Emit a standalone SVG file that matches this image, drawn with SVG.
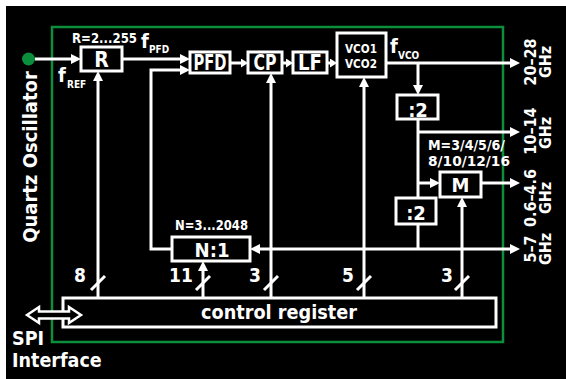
<svg xmlns="http://www.w3.org/2000/svg" width="566" height="379" viewBox="0 0 566 379">
<style>
.t{font-family:"DejaVu Sans Condensed","DejaVu Sans","Liberation Sans Narrow",sans-serif;font-weight:bold;fill:#fff}
.box{fill:#000;stroke:#fff;stroke-width:3}
.ln{fill:none;stroke:#fff;stroke-width:3}
.m{text-anchor:middle}
</style>
<defs>
<marker id="ah" markerUnits="userSpaceOnUse" viewBox="0 0 10 10" markerWidth="10" markerHeight="10" refX="4" refY="5" orient="auto-start-reverse"><path d="M0,0L10,5L0,10z" fill="#fff"/></marker>
<marker id="as" markerUnits="userSpaceOnUse" viewBox="0 0 7 9" markerWidth="7" markerHeight="9" refX="3" refY="4.5" orient="auto"><path d="M0,0L7,4.5L0,9z" fill="#fff"/></marker>
</defs>
<rect x="0" y="0" width="566" height="379" fill="#fff"/>
<rect x="6" y="6" width="560" height="373" fill="#000"/>
<rect x="52" y="27" width="451" height="315" fill="none" stroke="#0b8f3c" stroke-width="2.5"/>

<g id="quartz">
<circle cx="28.5" cy="59" r="6.5" fill="#0b8f3c"/>
<text class="t m" transform="translate(36.5,157) rotate(-90)" font-size="20">Quartz Oscillator</text>
</g>

<g id="connectors">
<path class="ln" marker-end="url(#ah)" d="M35,59H75"/>
<path class="ln" marker-end="url(#ah)" d="M122,59H184"/>
<path class="ln" marker-end="url(#ah)" d="M172,249H151V70H184"/>
<path class="ln" marker-end="url(#as)" d="M230,63H244"/>
<path class="ln" marker-end="url(#as)" d="M282,63H289"/>
<path class="ln" marker-end="url(#as)" d="M327,63H333"/>
<path class="ln" marker-end="url(#ah)" d="M386,63H514"/>
<path class="ln" marker-end="url(#ah)" d="M418,63V89"/>
<path class="ln" d="M418,119V198"/>
<path class="ln" marker-end="url(#ah)" d="M418,132H514"/>
<path class="ln" marker-end="url(#ah)" d="M418,183H434"/>
<path class="ln" marker-end="url(#ah)" d="M481,183H514"/>
<path class="ln" d="M418,224V249"/>
<path class="ln" marker-start="url(#ah)" marker-end="url(#ah)" d="M256,249H514"/>
<path class="ln" marker-end="url(#ah)" d="M98,298V77"/>
<path class="ln" marker-end="url(#ah)" d="M203,298V267"/>
<path class="ln" marker-end="url(#ah)" d="M271,298V79"/>
<path class="ln" marker-end="url(#ah)" d="M364,298V83"/>
<path class="ln" marker-end="url(#ah)" d="M462,298V203"/>
<path class="ln" d="M91,290L105,276M196,290L210,276M264,290L278,276M357,290L371,276M455,290L469,276"/>
</g>

<g id="bus-labels">
<text class="t m" x="80" y="282" font-size="19">8</text>
<text class="t m" x="181" y="282" font-size="19">11</text>
<text class="t m" x="255" y="282" font-size="19">3</text>
<text class="t m" x="348" y="282" font-size="19">5</text>
<text class="t m" x="447" y="282" font-size="19">3</text>
</g>

<g id="R">
<rect class="box" x="81" y="47" width="41" height="24"/>
<text class="t m" x="101.5" y="66.5" font-size="21">R</text>
<text class="t" x="72" y="43" font-size="14" textLength="65" lengthAdjust="spacingAndGlyphs">R=2...255</text>
</g>
<g id="fref"><text class="t" x="58" y="82" font-size="20">f<tspan x="67" y="88" font-size="10">REF</tspan></text></g>
<g id="fpfd"><text class="t" x="141" y="48" font-size="20">f<tspan x="149" y="53" font-size="10">PFD</tspan></text></g>

<g id="PFD">
<rect class="box" x="190" y="52" width="40" height="21"/>
<text class="t m" x="210" y="70" font-size="20.5" textLength="33" lengthAdjust="spacingAndGlyphs">PFD</text>
</g>
<g id="CP">
<rect class="box" x="248" y="52" width="34" height="21"/>
<text class="t m" x="265" y="70" font-size="20.5" textLength="23" lengthAdjust="spacingAndGlyphs">CP</text>
</g>
<g id="LF">
<rect class="box" x="293" y="52" width="34" height="21"/>
<text class="t m" x="310" y="70" font-size="20.5" textLength="24" lengthAdjust="spacingAndGlyphs">LF</text>
</g>
<g id="VCO">
<rect class="box" x="337" y="33" width="49" height="44"/>
<text class="t m" x="361" y="53" font-size="13" textLength="32" lengthAdjust="spacingAndGlyphs">VCO1</text>
<text class="t m" x="361" y="68" font-size="13" textLength="32" lengthAdjust="spacingAndGlyphs">VCO2</text>
</g>
<g id="fvco"><text class="t" x="390" y="53" font-size="20">f<tspan x="398" y="59" font-size="10">VCO</tspan></text></g>

<g id="div2a">
<rect class="box" x="397" y="95" width="41" height="24"/>
<text class="t m" x="418" y="116.5" font-size="20">:2</text>
</g>
<g id="div2b">
<rect class="box" x="396" y="198" width="40" height="26"/>
<text class="t m" x="416" y="220" font-size="20">:2</text>
</g>
<g id="M">
<rect class="box" x="440" y="172" width="41" height="25"/>
<text class="t m" x="460.5" y="191.5" font-size="20">M</text>
<text class="t" x="428" y="150" font-size="14" textLength="77" lengthAdjust="spacingAndGlyphs">M=3/4/5/6/</text>
<text class="t" x="428" y="165.5" font-size="14" textLength="82" lengthAdjust="spacingAndGlyphs">8/10/12/16</text>
</g>
<g id="N1">
<rect class="box" x="172" y="237" width="78" height="24"/>
<text class="t m" x="212" y="257" font-size="20" textLength="35" lengthAdjust="spacingAndGlyphs">N:1</text>
<text class="t" x="175" y="229.5" font-size="14" textLength="73" lengthAdjust="spacingAndGlyphs">N=3...2048</text>
</g>

<g id="outputs">
<text class="t m" transform="translate(536,62) rotate(-90)" font-size="16">20–28</text>
<text class="t m" transform="translate(550.5,62) rotate(-90)" font-size="16">GHz</text>
<text class="t m" transform="translate(536,131) rotate(-90)" font-size="16">10–14</text>
<text class="t m" transform="translate(550.5,133) rotate(-90)" font-size="16">GHz</text>
<text class="t m" transform="translate(536,198) rotate(-90)" font-size="16">0.6–4.6</text>
<text class="t m" transform="translate(550.5,198) rotate(-90)" font-size="16">GHz</text>
<text class="t m" transform="translate(536,249) rotate(-90)" font-size="16">5–7</text>
<text class="t m" transform="translate(550.5,249) rotate(-90)" font-size="16">GHz</text>
</g>

<g id="register">
<rect class="box" x="63" y="298" width="433" height="29"/>
<text class="t m" x="279" y="319" font-size="20" textLength="156" lengthAdjust="spacingAndGlyphs">control register</text>
</g>

<g id="spi">
<path d="M27,315L39,307V311.5H69V307L81,315L69,323V318.5H39V323Z" fill="#000" stroke="#fff" stroke-width="2.5" stroke-linejoin="miter"/>
<text class="t" x="12" y="345" font-size="19.5">SPI</text>
<text class="t" x="12" y="366.5" font-size="19.5">Interface</text>
</g>
</svg>
